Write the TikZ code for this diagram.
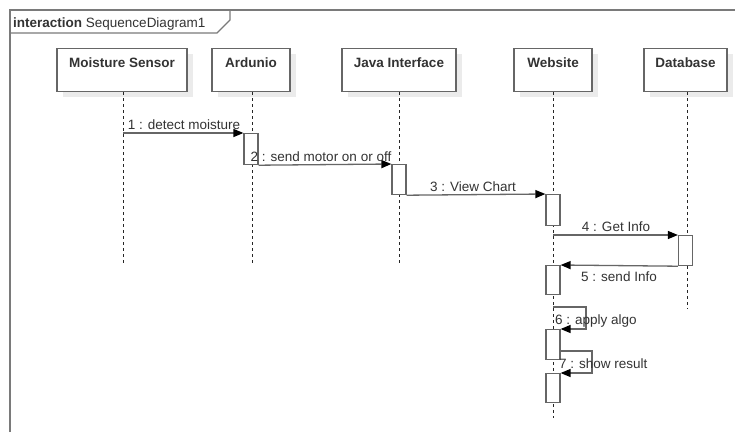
\documentclass[tikz,border=0pt]{standalone}
\usepackage{fontspec}
\setmainfont{Liberation Sans}
\usetikzlibrary{arrows.meta}
\definecolor{linec}{HTML}{666666}
\definecolor{framec}{HTML}{7A7A7A}
\definecolor{textc}{HTML}{333333}
\definecolor{shadowc}{HTML}{EBEBEB}
\tikzset{
  lifebox/.style={draw=linec, line width=1.2pt, fill=white, minimum width=#1, minimum height=43pt, inner sep=0pt, anchor=north},
  boxshadow/.style={fill=shadowc, draw=none},
  lifetext/.style={font=\fontsize{13.5}{15}\selectfont\bfseries, text=textc, anchor=base, inner sep=0pt},
  lifeline/.style={draw=black!85, line width=1pt, dash pattern=on 3pt off 3pt},
  actbar/.style={draw=linec, line width=1.2pt, fill=white, minimum width=14pt, minimum height=#1, inner sep=0pt, anchor=north},
  msg/.style={draw=linec, line width=1.3pt, -{Triangle[length=10pt,width=8pt,fill=black,color=black]}},
  msglabel/.style={font=\fontsize{13.5}{15}\selectfont, text=textc, anchor=base, inner sep=0pt},
}
\begin{document}
\begin{tikzpicture}[x=1pt,y=-1pt]
\useasboundingbox (0,0) rectangle (735,432);
\fill[white] (0,0) rectangle (735,432);
% frame
\draw[framec, line width=1.3pt] (10,432) -- (10,10) -- (736,10);
\draw[framec, line width=1.1pt] (10,33) -- (217,33) -- (230,20) -- (230,10);
\node[anchor=base west, inner sep=0pt, text=textc, font=\fontsize{13.5}{15}\selectfont] (title) at (13,27) {\textbf{interaction} SequenceDiagram1};
% shadows
\foreach \l/\r in {57/187, 212/290, 342/456, 514/592, 644/727}
  \fill[shadowc] (\l+6,54) rectangle (\r+6,97);
% lifeline boxes
\node[lifebox=130pt] (ms) at (122,48) {};
\node[lifebox=78pt] (ar) at (251,48) {};
\node[lifebox=114pt] (ji) at (399,48) {};
\node[lifebox=78pt] (ws) at (553,48) {};
\node[lifebox=83pt] (db) at (685.5,48) {};
\node[lifetext] (mst) at (122,67) {Moisture Sensor};
\node[lifetext] (art) at (251,67) {Ardunio};
\node[lifetext] (jit) at (399,67) {Java Interface};
\node[lifetext] (wst) at (553,67) {Website};
\node[lifetext] (dbt) at (685.5,67) {Database};
% lifeline ends
\coordinate (msE) at (123,264);
\coordinate (arE) at (252,264);
\coordinate (jiE) at (399,264);
\coordinate (wsE) at (553,418);
\coordinate (dbE) at (687,309);
\draw[lifeline] (ms.south -| msE) -- (msE);
\draw[lifeline] (ar.south -| arE) -- (arE);
\draw[lifeline] (ji.south -| jiE) -- (jiE);
\draw[lifeline] (ws.south -| wsE) -- (wsE);
\draw[lifeline] (db.south -| dbE) -- (dbE);
% activation bars
\node[actbar=31pt] (a1) at (251,133) {};
\node[actbar=30pt] (a2) at (399,164) {};
\node[actbar=31pt] (a3) at (553,194) {};
\node[actbar=30pt] (a4) at (685.5,235) {};
\node[actbar=29pt] (a5) at (553,265) {};
\node[actbar=30pt] (a6) at (553,329) {};
\node[actbar=29pt] (a7) at (553,373) {};
% message coordinates
\coordinate (m1s) at (123,133);
\coordinate (m4s) at (553,235);
\coordinate (m6s) at (553,307);
\coordinate (m6a) at (586,307);
\coordinate (m6b) at (586,329);
\coordinate (m7s) at (560,351);
\coordinate (m7a) at (592,351);
\coordinate (m7b) at (592,373);
% messages
\draw[msg] (m1s) -- (a1.north west);
\draw[msg] (a1.south east) -- (a2.north west);
\draw[msg] (a2.south east) -- (a3.north west);
\draw[msg] (m4s) -- (a4.north west);
\draw[msg] (a4.south west) -- (a5.north east);
\draw[msg] (m6s) -- (m6a) -- (m6b) -- (a6.north east);
\draw[msg] (m7s) -- (m7a) -- (m7b) -- (a7.north east);
% labels
\node[msglabel] (l1) at (184,129) {1 : detect moisture};
\node[msglabel] (l2) at (321,161) {2 : send motor on or off};
\node[msglabel] (l3) at (473,191) {3 : View Chart};
\node[msglabel] (l4) at (616,231) {4 : Get Info};
\node[msglabel] (l5) at (619,281) {5 : send Info};
\node[msglabel, anchor=base west] (l6) at (555,324) {6 : apply algo};
\node[msglabel, anchor=base west] (l7) at (559,368) {7 : show result};
\end{tikzpicture}
\end{document}
